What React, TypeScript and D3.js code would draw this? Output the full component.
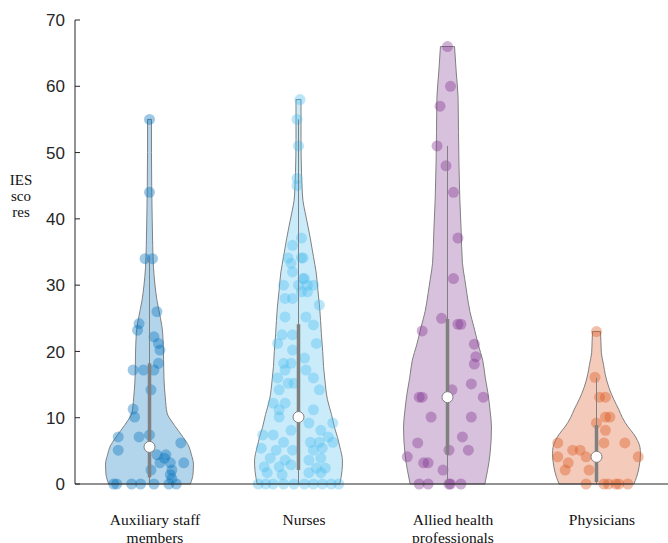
import React from 'react'
import * as d3 from 'd3'

// categories and their label lines
const categoryLines = [['Auxiliary staff', 'members'], ['Nurses'], ['Allied health', 'professionals'], ['Physicians']]
const colors = ['#0072BD', '#4DBEEE', '#7E2F8E', '#D95319']
const yTicks = [0, 10, 20, 30, 40, 50, 60, 70]
const yLabelLines = ['IES', 'sco', 'res']

// box stats
const medians = [5.6, 10.1, 13.1, 4.1]
const q1 = [1, 2.1, 4.4, 0.3]
const q3 = [18.2, 24.1, 24.9, 8.9]
const whiskerLow = [0, 0, 0, 0]
const whiskerHigh = [34, 55, 51, 16]

// density outline: [score, relative density]
const auxDensity = [
  [0, 0.93], [1.5, 0.99], [3, 1.0], [4.5, 0.95], [5.6, 0.9], [7, 0.77], [8.1, 0.65], [9.5, 0.5],
  [10.7, 0.4], [13, 0.36], [15.7, 0.33], [19, 0.32], [22.8, 0.3], [25, 0.25], [27.7, 0.17],
  [30, 0.125], [32.7, 0.09], [36, 0.073], [40, 0.061], [45, 0.05], [50, 0.045], [55, 0.045]
]
const nurseDensity = [
  [0, 0.94], [2, 0.99], [3.5, 1.0], [5.6, 0.94], [7, 0.89], [8.5, 0.82], [10.5, 0.75], [12.7, 0.66],
  [15.7, 0.6], [17.7, 0.57], [20, 0.55], [22.7, 0.52], [26.7, 0.48], [29.3, 0.44], [32, 0.4],
  [34.3, 0.34], [37, 0.27], [39.4, 0.2], [41, 0.15], [42.8, 0.1], [45, 0.08], [47, 0.068],
  [52, 0.057], [58, 0.057]
]
const alliedDensity = [
  [0, 0.85], [2, 0.91], [4.7, 0.97], [8.6, 1.0], [11, 0.97], [13.7, 0.92], [16, 0.86], [18.7, 0.8],
  [21, 0.7], [23.7, 0.6], [26, 0.51], [28.8, 0.44], [31, 0.39], [33.3, 0.34], [38.3, 0.31],
  [43, 0.28], [48.4, 0.26], [53, 0.25], [58.4, 0.24], [62, 0.2], [66, 0.16]
]
const physDensity = [
  [0, 0.85], [1, 0.91], [2.6, 0.97], [4.6, 1.0], [5.5, 0.99], [6.6, 0.93], [7.6, 0.84], [8.6, 0.72],
  [10, 0.59], [11.2, 0.51], [12.8, 0.39], [14.6, 0.28], [16.5, 0.2], [18, 0.16], [19.8, 0.11],
  [21.5, 0.1], [23, 0.09]
]

// individual scores: [score, jitter in category units]
const auxPoints = [
  [55, 0], [44, 0], [34, -0.03], [34, 0.02], [26, 0.05], [24.2, -0.07], [23.2, -0.08], [22.2, 0.03],
  [21.2, 0.06], [20.2, 0.07], [18.2, 0.06], [17.2, -0.11], [17.2, -0.04], [17.2, 0.03], [14.2, 0.01],
  [11.3, -0.11], [10.1, -0.1], [7.1, -0.21], [7.1, -0.07], [7.4, 0], [6.2, 0.21], [5.1, -0.21],
  [4.4, 0.05], [4.4, 0.11], [3.9, 0.1], [3.2, 0.07], [3.2, 0.14], [3.2, 0.23], [2.1, 0.01], [2.1, 0.15],
  [1.4, 0.14], [0.8, 0.15], [0, -0.24], [0, -0.22], [0, -0.12], [0, -0.06], [0, 0.03], [0, 0.13], [0, 0.18]
]
const nursePoints = [
  [58, 0.01], [55, -0.01], [51, 0], [46.1, -0.01], [45, -0.01], [37.1, 0.02], [36, -0.04], [34.1, -0.07],
  [34.1, 0.02], [34.1, 0.03], [33.3, -0.05], [32, -0.04], [31, 0.03], [31, 0.04], [30, -0.1], [30, 0],
  [30, 0.06], [30, 0.1], [29, 0.02], [29, 0.06], [28, -0.09], [28, -0.04], [27, 0.14],
  [25.2, -0.09], [25.2, 0.05], [24, 0.1], [22.5, -0.11], [22.5, -0.04], [21.2, -0.14], [21.2, 0.12],
  [20.2, -0.04], [19, 0.04], [18.2, -0.1], [18.2, -0.05], [17.2, -0.09], [17.2, 0.05], [16, -0.14],
  [16, 0.1], [15.2, -0.07], [15.2, -0.03], [14.2, 0.14], [14.2, -0.13],
  [12.2, -0.17], [11.2, -0.13], [12.2, -0.09], [11.2, 0.1], [10.1, -0.13], [9.2, 0.07], [9.2, 0.23],
  [8.1, -0.05], [8.1, 0.15], [7.4, -0.24], [7.4, -0.17], [7.1, 0.2], [6.3, -0.1], [6.3, 0.08],
  [6.3, 0.14], [6.3, 0.23], [5.4, -0.25], [5.1, -0.15], [5.1, -0.04], [5.1, 0.1], [5.4, 0.16],
  [3.9, -0.19], [3.6, -0.09], [3.6, 0.07], [3.9, 0.15], [2.6, -0.23], [2.6, -0.13], [2.9, -0.05],
  [2.4, 0.12], [2.4, 0.18], [1.7, -0.21], [1.4, -0.11], [1.7, 0.07], [1.7, 0.15],
  [0, -0.27], [0, -0.22], [0, -0.17], [0, -0.1], [0, -0.03], [0, 0.04], [0, 0.1], [0, 0.16], [0, 0.22], [0, 0.27]
]
const alliedPoints = [
  [66, 0], [60, 0.02], [57, -0.05], [51, -0.07], [48, -0.01], [44, 0.04], [37.1, 0.07], [31, 0.04],
  [25, -0.04], [24.1, 0.07], [24.1, 0.09], [23.1, -0.17], [21.1, 0.18], [19.2, 0.19], [18.1, 0.18],
  [15.1, 0.16], [14.2, 0.03], [13.1, -0.19], [13.1, -0.17], [13.1, 0.24], [10.1, -0.11], [10.1, 0.16],
  [7.1, 0.1], [6.2, -0.2], [5.1, 0.01], [5.1, 0.14], [4.1, -0.27], [3.2, -0.16], [3.2, -0.13],
  [2.1, -0.03], [0, -0.19], [0, -0.13], [0, 0.01], [0, 0.02], [0, 0.09]
]
const physPoints = [
  [23, 0], [16.1, -0.01], [13.1, 0.02], [13.1, 0.06], [10.1, 0.06], [10.1, 0.09], [9.2, 0], [8.1, 0.06],
  [6.2, -0.26], [6.2, 0.05], [6.2, 0.19], [5.1, -0.16], [5.1, -0.11], [4.1, -0.07], [4.1, -0.26],
  [4.1, 0.28], [3.2, -0.19], [2.1, -0.21], [2.1, -0.05], [0, -0.07], [0, 0.05], [0, 0.08], [0, 0.13],
  [0, 0.15], [0, 0.21]
]

const densities = [auxDensity, nurseDensity, alliedDensity, physDensity]
const points = [auxPoints, nursePoints, alliedPoints, physPoints]

const W = 668
const H = 543
const grey = '#808080'
const axisColor = '#262626'

export default function App() {
  const x = d3.scaleLinear().domain([0.5, 4.5]).range([75, 671])
  const y = d3.scaleLinear().domain([0, 70]).range([484, 20])
  const halfW = d3.scaleLinear().domain([0, 1]).range([0, 0.295])
  // violin fill: the group colour at 30% over white
  const fillOf = (c: string) => d3.interpolateRgb('#ffffff', c)(0.3)

  return (
    <svg width={W} height={H} style={{ position: 'absolute', left: 0, top: 0, background: '#fff' }}>
      {densities.map((dens, i) => {
        const pos = i + 1
        const area = d3
          .area<number[]>()
          .curve(d3.curveMonotoneY)
          .y((d) => y(d[0]))
          .x0((d) => x(pos - halfW(d[1])))
          .x1((d) => x(pos + halfW(d[1])))
        return (
          <g key={i}>
            <path d={area(dens) || ''} fill={fillOf(colors[i])} stroke={grey} strokeWidth={1} />
            {points[i].map((p, j) => (
              <circle
                key={j}
                cx={x(pos + p[1])}
                cy={y(p[0])}
                r={5.5}
                fill={colors[i]}
                fillOpacity={0.38}
              />
            ))}
            <line x1={x(pos)} x2={x(pos)} y1={y(whiskerLow[i])} y2={y(whiskerHigh[i])} stroke={grey} strokeWidth={1} />
            <line x1={x(pos)} x2={x(pos)} y1={y(q1[i])} y2={y(q3[i])} stroke={grey} strokeWidth={3.5} />
            <circle cx={x(pos)} cy={y(medians[i])} r={5.5} fill="#fff" stroke={grey} strokeWidth={1} />
          </g>
        )
      })}

      {/* axes */}
      <line x1={x(0.5)} x2={x(0.5)} y1={y(0)} y2={y(70)} stroke={axisColor} strokeWidth={1} />
      <line x1={x(0.5)} x2={W} y1={y(0)} y2={y(0)} stroke={axisColor} strokeWidth={1} />
      {yTicks.map((t) => (
        <g key={t}>
          <line x1={x(0.5)} x2={x(0.5) + 5} y1={y(t)} y2={y(t)} stroke={axisColor} strokeWidth={1} />
          <text
            x={x(0.5) - 10}
            y={y(t)}
            dy="0.36em"
            textAnchor="end"
            fontFamily="'Liberation Sans', Arial, sans-serif"
            fontSize={17}
            fill={axisColor}
          >
            {t}
          </text>
        </g>
      ))}
      {categoryLines.map((lines, i) => (
        <text
          key={i}
          x={x(i + 1) + 5.5}
          y={525}
          textAnchor="middle"
          fontFamily="'Liberation Serif', 'Times New Roman', serif"
          fontSize={15.5}
          fill="#111"
        >
          {lines.map((l, k) => (
            <tspan key={k} x={x(i + 1) + 5.5} dy={k === 0 ? 0 : 17.5}>
              {l}
            </tspan>
          ))}
        </text>
      ))}
      <text
        x={21}
        y={185}
        textAnchor="middle"
        fontFamily="'Liberation Serif', 'Times New Roman', serif"
        fontSize={15}
        fill="#111"
      >
        {yLabelLines.map((l, k) => (
          <tspan key={k} x={21} dy={k === 0 ? 0 : 16}>
            {l}
          </tspan>
        ))}
      </text>
    </svg>
  )
}
